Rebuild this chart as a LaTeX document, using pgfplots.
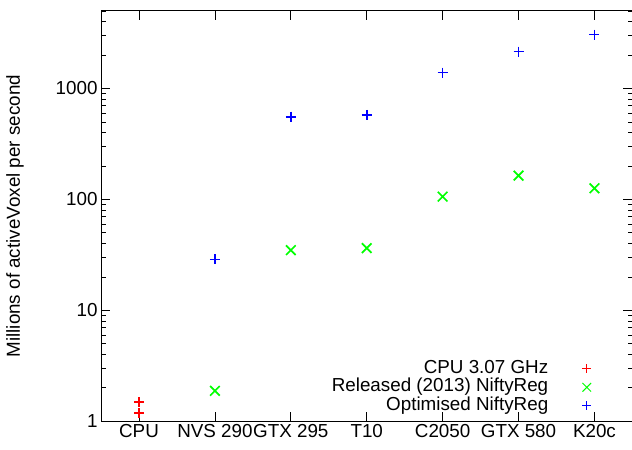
\documentclass[border=0pt]{standalone}
\usepackage{fontspec}
\setmainfont{Liberation Sans}
\usepackage{pgfplots}
\pgfplotsset{compat=1.18}
\definecolor{gpred}{RGB}{255,0,0}
\definecolor{gpgreen}{RGB}{0,255,0}
\definecolor{gpblue}{RGB}{0,0,255}

\pgfplotsset{
  gpmark/.style 2 args={only marks, mark=#1, mark size=#2, line width=1.7pt,
    legend image code/.code={
      \draw[##1, mark size=0.9*#2, line width=1pt] plot coordinates {(0pt,0pt)};}},
}

\begin{document}
\begin{tikzpicture}[font=\fontsize{18.8}{21}\selectfont]
\useasboundingbox (-101pt,-28pt) rectangle (530.6pt,421pt);
\begin{axis}[
  at={(0pt,0pt)}, anchor=south west,
  scale only axis, width=531pt, height=410pt,
  ymode=log, ymin=1, ymax=5000,
  xmin=-0.5, xmax=6.5,
  xtick={0,...,6},
  xticklabels={CPU,NVS 290,GTX 295,T10,C2050,GTX 580,K20c},
  ytick={1,10,100,1000}, yticklabels={1,10,100,1000},
  minor ytick={2,3,4,5,6,7,8,9,20,30,40,50,60,70,80,90,200,300,400,500,600,700,800,900,2000,3000,4000,5000},
  tick align=inside, major tick length=9pt, minor tick length=4.5pt,
  every tick/.style={black, line width=0.8pt},
  axis line style={line width=1pt},
  ylabel={Millions of activeVoxel per second},
  ylabel style={at={(axis description cs:-0.162,0.5)}, anchor=center},
  /pgf/number format/assume math mode=true,
  legend plot pos=right, legend cell align=right,
  legend style={at={(0.923,0.0146)}, anchor=south east, draw=none, fill=none,
                inner sep=0pt, row sep=0pt, column sep=34pt,
                nodes={inner sep=0pt, text height=13.5pt, text depth=5pt}},
]
\addplot[gpmark={+}{5pt}, color=gpred]
  coordinates {(0,1.49)(0,1.19)};
\addplot[gpmark={x}{6.8pt}, color=gpgreen]
  coordinates {(1,1.88)(2,34.9)(3,36.4)(4,106)(5,164)(6,126)};
\addplot[gpmark={+}{5pt}, color=gpblue]
  coordinates {(1,28.8)(2,557)(3,578)(4,1391)(5,2153)(6,3066)};
\legend{CPU 3.07 GHz, Released (2013) NiftyReg, Optimised NiftyReg}
\end{axis}
\end{tikzpicture}
\end{document}
